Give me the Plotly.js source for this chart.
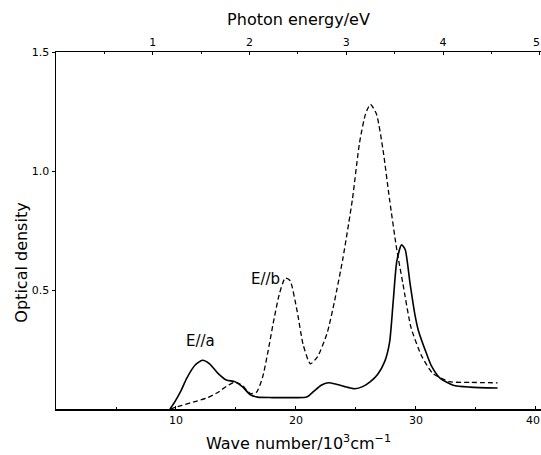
<!DOCTYPE html>
<html>
<head>
<meta charset="utf-8">
<script src="https://cdn.plot.ly/plotly-3.0.1.min.js"></script>
<style>html,body{margin:0;padding:0;background:#fff;}#chart{width:541px;height:455px;}</style>
</head>
<body>
<div id="chart"></div>
<script>
// Wave number in 10^3 cm^-1, optical density
const waveA = [9.5, 9.9, 10.4, 10.9, 11.6, 12.2, 12.8, 13.5, 14.2, 14.9, 15.5, 16.2, 16.8, 18.0, 19.5, 20.9, 21.5, 22.1, 22.7, 23.3, 24.0, 24.9, 25.6, 26.2, 26.8, 27.4, 27.8, 28.1, 28.4, 28.8, 29.1, 29.5, 29.9, 30.2, 30.9, 31.3, 32.0, 33.1, 34.5, 36.8];
const odA   = [0.0, 0.03, 0.075, 0.13, 0.185, 0.205, 0.19, 0.15, 0.122, 0.115, 0.095, 0.06, 0.05, 0.048, 0.048, 0.05, 0.075, 0.10, 0.11, 0.105, 0.095, 0.085, 0.095, 0.115, 0.145, 0.20, 0.28, 0.45, 0.62, 0.69, 0.67, 0.53, 0.40, 0.33, 0.23, 0.18, 0.13, 0.10, 0.092, 0.088];

const waveB = [9.5, 10.5, 11.5, 12.5, 13.4, 14.2, 14.9, 15.5, 16.2, 16.7, 17.2, 17.7, 18.1, 18.6, 19.1, 19.5, 20.1, 20.6, 21.2, 21.8, 22.6, 23.2, 23.9, 24.7, 25.3, 25.8, 26.2, 26.7, 27.25, 27.8, 28.4, 28.9, 29.6, 30.5, 31.4, 32.8, 34.5, 36.8];
const odB   = [0.0, 0.015, 0.03, 0.045, 0.067, 0.095, 0.113, 0.10, 0.065, 0.07, 0.13, 0.25, 0.36, 0.48, 0.55, 0.54, 0.41, 0.27, 0.19, 0.22, 0.32, 0.45, 0.63, 0.88, 1.12, 1.24, 1.28, 1.24, 1.09, 0.88, 0.67, 0.53, 0.34, 0.22, 0.15, 0.115, 0.112, 0.11];

const waveTicks = [10, 20, 30, 40];
const waveTickText = ['10', '20', '30', ''];
const eVTicks = [1, 2, 3, 4, 5];
const eVTickText = ['1', '2', '3', '4', ''];
const edgeLabels = ['40', '5'];
const odTicks = [0.5, 1.0, 1.5];
const odTickText = ['0.5', '1.0', '1.5'];
const seriesLabels = ['E//a', 'E//b'];
const labelPos = [[12.2, 0.205], [19.1, 0.55]];

const cmPerEV = 8.0655; // 10^3 cm^-1 per eV
const xMax = 40.42;

const font = 'DejaVu Sans, Liberation Sans, sans-serif';

const traces = [
  {x: waveA, y: odA, type: 'scatter', mode: 'lines', line: {color: '#000', width: 1.6, shape: 'spline', smoothing: 0.6}, hoverinfo: 'skip', showlegend: false},
  {x: waveB, y: odB, type: 'scatter', mode: 'lines', line: {color: '#000', width: 1.3, dash: '5px,3px', shape: 'spline', smoothing: 0.6}, hoverinfo: 'skip', showlegend: false},
  {x: [0, xMax / cmPerEV], y: [null, null], xaxis: 'x2', type: 'scatter', mode: 'none', hoverinfo: 'skip', showlegend: false}
];

const layout = {
  width: 541, height: 455,
  margin: {l: 56, r: 0, t: 52, b: 46},
  paper_bgcolor: '#fff', plot_bgcolor: '#fff',
  font: {family: font, color: '#000', size: 11},
  xaxis: {
    range: [0, xMax], showgrid: false, zeroline: false,
    showline: true, linecolor: '#000', linewidth: 1.5,
    tickvals: waveTicks, ticktext: waveTickText, ticks: 'inside', ticklen: 3, tickcolor: '#000',
    minor: {tickvals: [5, 15, 25, 35], ticks: 'inside', ticklen: 2, tickcolor: '#000'},
    tickfont: {size: 11, family: font},
    title: {text: 'Wave number/10<sup>3</sup>cm<sup>−1</sup>', font: {size: 16, family: font}, standoff: 12}
  },
  xaxis2: {
    overlaying: 'x', side: 'top', range: [0, xMax / cmPerEV],
    showgrid: false, zeroline: false,
    showline: true, linecolor: '#000', linewidth: 1.5,
    tickvals: eVTicks, ticktext: eVTickText, ticks: 'inside', ticklen: 3, tickcolor: '#000',
    minor: {dtick: 0.5, tick0: 0, ticks: 'inside', ticklen: 2, tickcolor: '#000'},
    tickfont: {size: 11, family: font},
    title: {text: 'Photon energy/eV', font: {size: 16, family: font}, standoff: 6}
  },
  yaxis: {
    range: [0, 1.5], showgrid: false, zeroline: false,
    showline: true, linecolor: '#000', linewidth: 1.5,
    tickvals: odTicks, ticktext: odTickText, ticks: 'outside', ticklen: 3, tickcolor: '#000',
    tickfont: {size: 11, family: font}
  },
  annotations: seriesLabels.map((t, i) => ({
    x: labelPos[i][0], y: labelPos[i][1], xref: 'x', yref: 'y',
    text: t, showarrow: false, font: {size: 15, family: font},
    xanchor: i === 0 ? 'center' : 'right', yanchor: 'bottom',
    xshift: i === 0 ? -2 : -3, yshift: i === 0 ? 8 : -12
  })).concat([
    {text: 'Optical density', xref: 'paper', yref: 'paper',
     x: 0, y: 0.41, xanchor: 'center', yanchor: 'middle', xshift: -34,
     textangle: -90, showarrow: false, font: {size: 16, family: font}},
    {text: edgeLabels[0], xref: 'x', yref: 'paper', x: waveTicks[3], y: 0,
     xanchor: 'right', yanchor: 'top', xshift: 5, yshift: -4, showarrow: false,
     borderpad: 0, font: {size: 11, family: font}},
    {text: edgeLabels[1], xref: 'x2', yref: 'paper', x: eVTicks[4], y: 1,
     xanchor: 'right', yanchor: 'bottom', xshift: 1, yshift: 2, showarrow: false,
     borderpad: 0, font: {size: 11, family: font}}
  ])
};

Plotly.newPlot('chart', traces, layout, {staticPlot: true, displayModeBar: false});
</script>
</body>
</html>
